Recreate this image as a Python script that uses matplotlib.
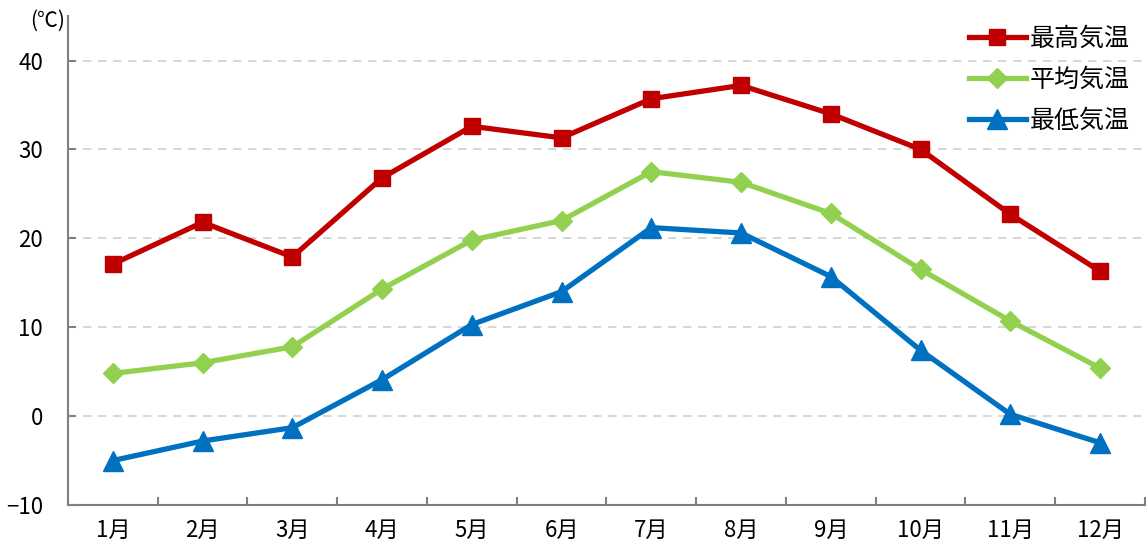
import matplotlib
matplotlib.use('Agg')
import matplotlib.pyplot as plt

plt.rcParams['font.family'] = ['Noto Sans CJK JP', 'DejaVu Sans']

# data
months = ['1月', '2月', '3月', '4月', '5月', '6月', '7月', '8月', '9月', '10月', '11月', '12月']
t_max = [17.1, 21.8, 17.9, 26.8, 32.6, 31.3, 35.7, 37.2, 34.0, 30.0, 22.7, 16.3]
t_mean = [4.8, 6.0, 7.8, 14.3, 19.8, 22.0, 27.5, 26.3, 22.8, 16.5, 10.7, 5.4]
t_min = [-5.0, -2.8, -1.3, 4.1, 10.3, 14.0, 21.2, 20.6, 15.7, 7.4, 0.2, -3.0]
yticks = [-10, 0, 10, 20, 30, 40]

fig = plt.figure(figsize=(11.46, 5.5), dpi=100)
ax = fig.add_axes([0.0593, 0.0818, 0.9398, 0.889])

x = list(range(len(months)))
ax.plot(x, t_max, color='#C00000', lw=3.8, marker='s', ms=12, label='最高気温', zorder=3)
ax.plot(x, t_mean, color='#92D050', lw=3.8, marker='D', ms=10, label='平均気温', zorder=3)
ax.plot(x, t_min, color='#0070C0', lw=3.8, marker='^', ms=14, label='最低気温', zorder=3)

ax.set_xlim(-0.5, 11.5)
ax.set_ylim(-10, 45)
ax.set_yticks(yticks)
ax.set_yticklabels([str(v).replace('-', '\u2212') for v in yticks], fontsize=16)
for v in yticks[1:]:
    ax.axhline(v, color='#D0D0D0', lw=1.2, ls=(0, (5, 4)), zorder=1)

ax.set_xticks(x)
ax.set_xticklabels(months, fontsize=16)
ax.set_xticks([i - 0.5 for i in range(13)], minor=True)
ax.tick_params(axis='x', which='major', length=0, pad=10)
ax.tick_params(axis='x', which='minor', direction='in', length=6, color='#808080', width=1.5)
ax.tick_params(axis='y', direction='in', length=6, color='#808080', width=1.5, pad=18)

for s in ['top', 'right']:
    ax.spines[s].set_visible(False)
for s in ['left', 'bottom']:
    ax.spines[s].set_color('#808080')
    ax.spines[s].set_linewidth(1.5)

ax.text(-0.003, 0.99, '(℃)', transform=ax.transAxes, fontsize=15, ha='right', va='center')

leg = ax.legend(loc='upper right', bbox_to_anchor=(1.0, 1.01), frameon=False, fontsize=18,
                handlelength=2.3, labelspacing=0.6, handletextpad=0.15, borderaxespad=0.2)

fig.savefig('out.png', dpi=100)
